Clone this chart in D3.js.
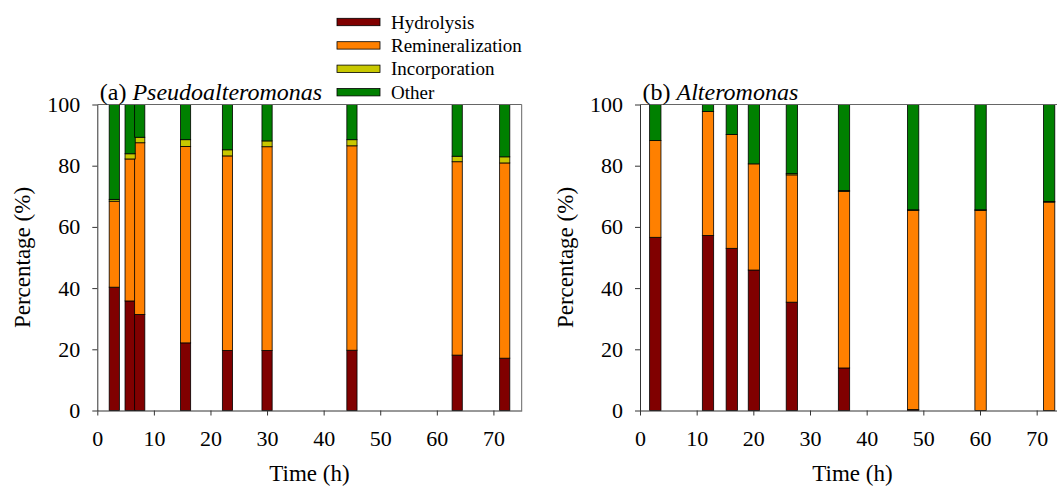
<!DOCTYPE html>
<html>
<head>
<meta charset="utf-8">
<script src="https://cdn.jsdelivr.net/npm/d3@7"></script>
<style>
  body { margin: 0; background: #fff; }
  svg { display: block; }
  svg text { font-family: "Liberation Serif", "Times New Roman", serif; }
</style>
</head>
<body>
<svg id="chart" width="1057" height="489"></svg>
<script>
const keys = ['Hydrolysis', 'Remineralization', 'Incorporation', 'Other'];
const xTicks = [0, 10, 20, 30, 40, 50, 60, 70];
const yTicks = [0, 20, 40, 60, 80, 100];

// (a) Pseudoalteromonas
const timeA = [3, 5.8, 7.5, 15.6, 23, 30, 45, 63.6, 72];
const hydroA = [40.3, 35.8, 31.4, 22.1, 19.6, 19.6, 19.7, 18.1, 17.1];
const reminA = [28.1, 46.4, 56.1, 64.2, 63.6, 66.6, 66.8, 63.2, 63.8];
const incorpA = [0.6, 1.7, 1.8, 2.2, 2.0, 1.9, 2.0, 1.8, 2.0];
const otherA = [31.0, 16.1, 10.7, 11.5, 14.8, 11.9, 11.5, 16.9, 17.1];

// (b) Alteromonas
const timeB = [2.7, 12, 16.2, 20.1, 26.8, 36, 48.2, 60.1, 72.2];
const hydroB = [56.6, 57.2, 53.0, 45.9, 35.4, 13.9, 0.3, 0, 0];
const reminB = [31.6, 40.5, 37.2, 34.7, 41.6, 57.7, 65.1, 65.4, 68.1];
const incorpB = [0, 0, 0, 0, 0.4, 0.3, 0.2, 0.2, 0.2];
const otherB = [11.8, 2.3, 9.8, 19.4, 22.6, 28.1, 34.4, 34.4, 31.7];

const colors = { Hydrolysis: '#800000', Remineralization: '#ff8000', Incorporation: '#c8c800', Other: '#008000' };

const svg = d3.select('#chart');
const plotTop = 104.5, plotBottom = 410.5;

function rows(t, h, r, i, o) {
  return t.map((d, k) => ({ time: d, Hydrolysis: h[k], Remineralization: r[k], Incorporation: i[k], Other: o[k] }));
}

function panel(data, x0, x1, barW, prefix, name, ylabX) {
  const x = d3.scaleLinear().domain([0, 75]).range([x0, x1]);
  const y = d3.scaleLinear().domain([0, 100]).range([plotBottom, plotTop]);
  const g = svg.append('g');

  const stacked = d3.stack().keys(keys)(data);
  g.selectAll('g.layer').data(stacked).join('g')
    .attr('fill', d => colors[d.key])
    .selectAll('rect').data(d => d).join('rect')
    .attr('x', d => x(d.data.time - barW / 2))
    .attr('width', d => x(barW) - x(0))
    .attr('y', d => y(d[1]))
    .attr('height', d => y(d[0]) - y(d[1]))
    .attr('stroke', '#000').attr('stroke-width', 0.8);

  // frame top/right
  g.append('line').attr('x1', x0).attr('x2', x1).attr('y1', plotTop).attr('y2', plotTop).attr('stroke', '#666');
  g.append('line').attr('x1', x1).attr('x2', x1).attr('y1', plotTop).attr('y2', plotBottom).attr('stroke', '#666');

  const xa = g.append('g').attr('transform', `translate(0,${plotBottom})`)
    .call(d3.axisBottom(x).tickValues(xTicks).tickSize(5).tickSizeOuter(0));
  const ya = g.append('g').attr('transform', `translate(${x0},0)`)
    .call(d3.axisLeft(y).tickValues(yTicks).tickSize(5).tickSizeOuter(0).tickPadding(12));
  [xa, ya].forEach(a => {
    a.select('.domain').attr('stroke', '#333');
    a.selectAll('.tick line').attr('stroke', '#333');
    a.selectAll('text').attr('font-size', 22).attr('fill', '#000')
      .style('font-family', '"Liberation Serif", "Times New Roman", serif');
  });
  xa.selectAll('text').attr('dy', '1.25em');

  g.append('text').attr('x', (x0 + x1) / 2).attr('y', 481).attr('text-anchor', 'middle')
    .attr('font-size', 23).text('Time (h)');
  g.append('text').attr('transform', `translate(${ylabX},${(plotTop + plotBottom) / 2}) rotate(-90)`)
    .attr('text-anchor', 'middle').attr('font-size', 23).text('Percentage (%)');

  const t = g.append('text').attr('x', x0 + 2.5).attr('y', 100).attr('font-size', 24);
  t.append('tspan').text(prefix + ' ');
  t.append('tspan').attr('font-style', 'italic').text(name);
}

panel(rows(timeA, hydroA, reminA, incorpA, otherA), 97.3, 521.7, 1.8, '(a)', 'Pseudoalteromonas', 30);
panel(rows(timeB, hydroB, reminB, incorpB, otherB), 640, 1065, 2.0, '(b)', 'Alteromonas', 573);

// legend
const lg = svg.append('g').selectAll('g').data(keys).join('g')
  .attr('transform', (d, i) => `translate(337,${22 + i * 23.4})`);
lg.append('rect').attr('x', 0).attr('y', -3.7).attr('width', 43).attr('height', 7.4)
  .attr('fill', d => colors[d]).attr('stroke', '#000').attr('stroke-width', 0.8);
lg.append('text').attr('x', 54).attr('y', 6.5).attr('font-size', 19).text(d => d);
</script>
</body>
</html>
